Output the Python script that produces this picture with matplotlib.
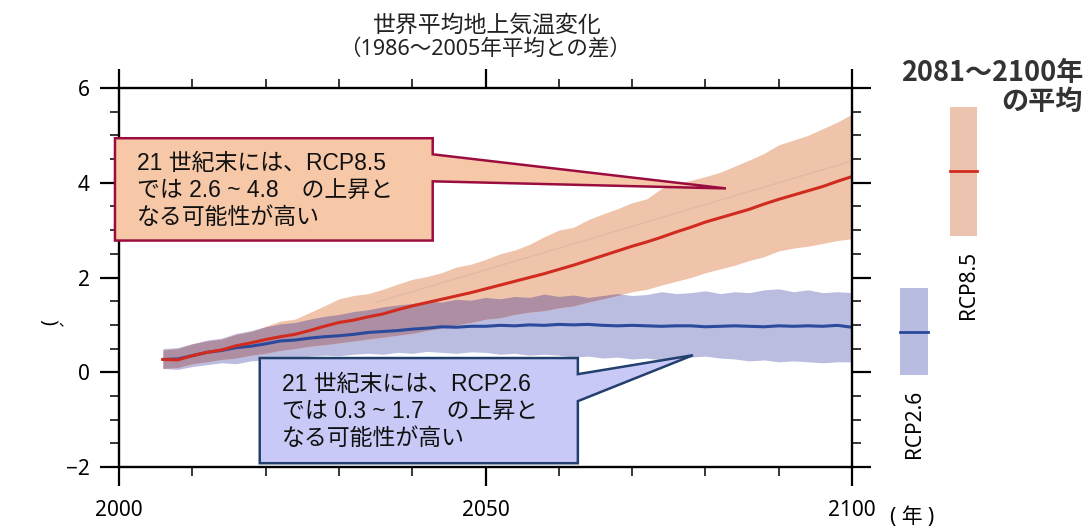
import matplotlib.pyplot as plt
import numpy as np
from matplotlib.patches import Polygon, Rectangle
from matplotlib.ticker import MultipleLocator

plt.rcParams['font.family'] = ['Noto Sans', 'Noto Sans CJK JP']

# 年（2006〜2100、2年毎）
years = np.arange(2006, 2101, 2)

# RCP8.5 : 平均と範囲
rcp85_mean = [0.27, 0.26, 0.35, 0.42, 0.47, 0.56, 0.62, 0.69, 0.75, 0.80, 0.88, 0.97,
              1.05, 1.10, 1.17, 1.23, 1.32, 1.40, 1.47, 1.54, 1.61, 1.68, 1.76, 1.84,
              1.92, 2.00, 2.08, 2.17, 2.26, 2.36, 2.46, 2.56, 2.66, 2.75, 2.85, 2.96,
              3.06, 3.17, 3.26, 3.35, 3.44, 3.55, 3.65, 3.74, 3.83, 3.92, 4.03, 4.13]
rcp85_hi = [0.47, 0.50, 0.60, 0.66, 0.70, 0.80, 0.86, 0.97, 1.08, 1.12, 1.26, 1.40,
            1.55, 1.62, 1.66, 1.75, 1.86, 1.96, 2.02, 2.10, 2.22, 2.28, 2.38, 2.50,
            2.58, 2.70, 2.86, 3.00, 3.06, 3.22, 3.34, 3.45, 3.58, 3.66, 3.88, 3.99,
            4.05, 4.13, 4.22, 4.35, 4.48, 4.62, 4.80, 4.90, 5.00, 5.14, 5.28, 5.45]
rcp85_lo = [0.08, 0.10, 0.18, 0.22, 0.27, 0.30, 0.36, 0.40, 0.46, 0.50, 0.55, 0.58,
            0.62, 0.66, 0.70, 0.74, 0.78, 0.82, 0.88, 0.93, 1.00, 1.05, 1.12, 1.15,
            1.22, 1.27, 1.30, 1.36, 1.40, 1.48, 1.55, 1.62, 1.70, 1.75, 1.84, 1.92,
            2.00, 2.10, 2.18, 2.26, 2.36, 2.44, 2.56, 2.62, 2.66, 2.72, 2.78, 2.82]

# RCP2.6 : 平均と範囲
rcp26_mean = [0.27, 0.28, 0.35, 0.42, 0.46, 0.52, 0.55, 0.60, 0.66, 0.68, 0.72, 0.75,
              0.77, 0.80, 0.84, 0.86, 0.88, 0.91, 0.93, 0.96, 0.95, 0.97, 0.97, 0.99,
              0.98, 1.00, 0.99, 1.01, 1.00, 1.01, 0.99, 0.98, 0.99, 0.98, 0.97, 0.98,
              0.98, 0.96, 0.97, 0.98, 0.97, 0.96, 0.98, 0.97, 0.98, 0.97, 0.99, 0.95]
rcp26_hi = [0.50, 0.52, 0.60, 0.68, 0.72, 0.82, 0.88, 0.96, 1.02, 1.05, 1.12, 1.18,
            1.22, 1.28, 1.32, 1.38, 1.42, 1.45, 1.50, 1.48, 1.54, 1.52, 1.58, 1.55,
            1.60, 1.58, 1.65, 1.60, 1.63, 1.58, 1.62, 1.66, 1.62, 1.64, 1.70, 1.66,
            1.68, 1.72, 1.66, 1.70, 1.68, 1.74, 1.76, 1.70, 1.74, 1.68, 1.70, 1.68]
rcp26_lo = [0.08, 0.06, 0.12, 0.16, 0.20, 0.18, 0.24, 0.26, 0.30, 0.28, 0.34, 0.36,
            0.35, 0.38, 0.40, 0.38, 0.42, 0.40, 0.44, 0.42, 0.40, 0.43, 0.42, 0.38,
            0.40, 0.36, 0.38, 0.36, 0.32, 0.34, 0.30, 0.32, 0.28, 0.30, 0.26, 0.30,
            0.32, 0.34, 0.30, 0.28, 0.24, 0.26, 0.22, 0.24, 0.22, 0.20, 0.22, 0.22]

# 参考線（薄い直線）
ref_years = [2035, 2100]
ref_vals = [1.47, 4.46]

# 2081〜2100年の平均（下限, 平均, 上限）
bar85 = [2.87, 4.24, 5.59]
bar26 = [-0.06, 0.86, 1.77]

red_text = ['21 世紀末には、RCP8.5', 'では 2.6 ~ 4.8　の上昇と', 'なる可能性が高い']
blue_text = ['21 世紀末には、RCP2.6', 'では 0.3 ~ 1.7　の上昇と', 'なる可能性が高い']

W, H = 1088, 528
fig = plt.figure(figsize=(W / 100, H / 100), dpi=100)
ax = fig.add_axes([119 / W, 1 - 467 / H, 733 / W, 379 / H])

# 範囲の帯
ax.fill_between(years, rcp26_lo, rcp26_hi, color='#babde0', lw=0)
ax.fill_between(years, rcp85_lo, rcp85_hi, color='#efc4aa', lw=0)
ov_lo = np.maximum(rcp26_lo, rcp85_lo)
ov_hi = np.minimum(rcp26_hi, rcp85_hi)
ax.fill_between(years, ov_lo, ov_hi, where=ov_hi > ov_lo, interpolate=True,
                color='#ae8ea2', lw=0)
ax.plot(ref_years, ref_vals, color='#e2b7a2', lw=0.8)

# 平均線
ax.plot(years, rcp26_mean, color='#2b4a9c', lw=2.2)
ax.plot(years, rcp85_mean, color='#d12b1f', lw=2.2)

ax.set_xlim(2000, 2100)
ax.set_ylim(-2, 6)
ax.xaxis.set_major_locator(MultipleLocator(50))
ax.xaxis.set_minor_locator(MultipleLocator(10))
ax.yaxis.set_major_locator(MultipleLocator(2))
ax.yaxis.set_minor_locator(MultipleLocator(0.5))
ax.tick_params(which='both', direction='out', top=True, right=True,
               labeltop=False, labelright=False, labelsize=15)
ax.tick_params(which='major', length=14, width=1.6)
ax.tick_params(which='minor', length=6.5, width=1.1)
ax.tick_params(axis='x', which='major', pad=10)
ax.tick_params(axis='y', which='major', pad=7)
for s in ax.spines.values():
    s.set_linewidth(1.7)

# 吹き出し
jp = ['Liberation Sans', 'Noto Sans CJK JP']
red_box = [(1999.45, 4.94), (2042.8, 4.94), (2042.8, 4.60), (2082.8, 3.88),
           (2042.8, 4.03), (2042.8, 2.78), (1999.45, 2.78)]
ax.add_patch(Polygon(red_box, closed=True, facecolor='#f7c8a8', edgecolor='#9c0d3f',
                     lw=1.8, clip_on=False, zorder=5))
for i, t in enumerate(red_text):
    ax.text(2002.5, 4.41 - i * 0.57, t, family=jp, fontsize=16.5, va='center',
            color='#111111', zorder=6)

blue_box = [(2019.2, 0.30), (2062.6, 0.30), (2062.6, -0.04), (2078.3, 0.36),
            (2062.6, -0.61), (2062.6, -1.92), (2019.2, -1.92)]
ax.add_patch(Polygon(blue_box, closed=True, facecolor='#c9c9f7', edgecolor='#233f6e',
                     lw=1.8, clip_on=False, zorder=5))
for i, t in enumerate(blue_text):
    ax.text(2022.2, -0.25 - i * 0.57, t, family=jp, fontsize=16.5, va='center',
            color='#111111', zorder=6)

# 右側の期間平均バー
lax = fig.add_axes([880 / W, 1 - 467 / H, 120 / W, 379 / H])
lax.set_xlim(0, 120)
lax.set_ylim(-2, 6)
lax.axis('off')
lax.add_patch(Rectangle((20, bar26[0]), 28, bar26[2] - bar26[0], color='#b8bce0', lw=0))
lax.plot([20, 48], [bar26[1], bar26[1]], color='#2b4a9c', lw=2)
lax.add_patch(Rectangle((70, bar85[0]), 27, bar85[2] - bar85[0], color='#ecc3ae', lw=0))
lax.plot([70, 97], [bar85[1], bar85[1]], color='#d12b1f', lw=2)
lax.text(35, bar26[0] - 0.3, 'RCP2.6', rotation=90, ha='center', va='top', fontsize=15)
lax.text(88, bar85[0] - 0.3, 'RCP8.5', rotation=90, ha='center', va='top', fontsize=15)

fig.text(1083 / W, 1 - 73 / H, '2081～2100年', ha='right', va='center',
         family='Noto Sans CJK JP', fontsize=19.5, fontweight='bold', color='#333333')
fig.text(1083 / W, 1 - 102 / H, 'の平均', ha='right', va='center',
         family='Noto Sans CJK JP', fontsize=19.5, fontweight='bold', color='#333333')

# タイトル
fig.text(487 / W, 1 - 26 / H, '世界平均地上気温変化', ha='center', va='center',
         fontsize=16.5, color='#222222')
fig.text(485 / W, 1 - 50 / H, '（1986～2005年平均との差）', ha='center', va='center',
         fontsize=15.5, color='#222222')

fig.text(912 / W, 1 - 518 / H, '( 年 )', ha='center', va='center', fontsize=15)
fig.text(50 / W, 1 - 322 / H, '(', rotation=90, ha='center', va='center', fontsize=14)
fig.text(65 / W, 1 - 322 / H, '、', ha='center', va='center', fontsize=10)

fig.savefig('out.png', dpi=100)
